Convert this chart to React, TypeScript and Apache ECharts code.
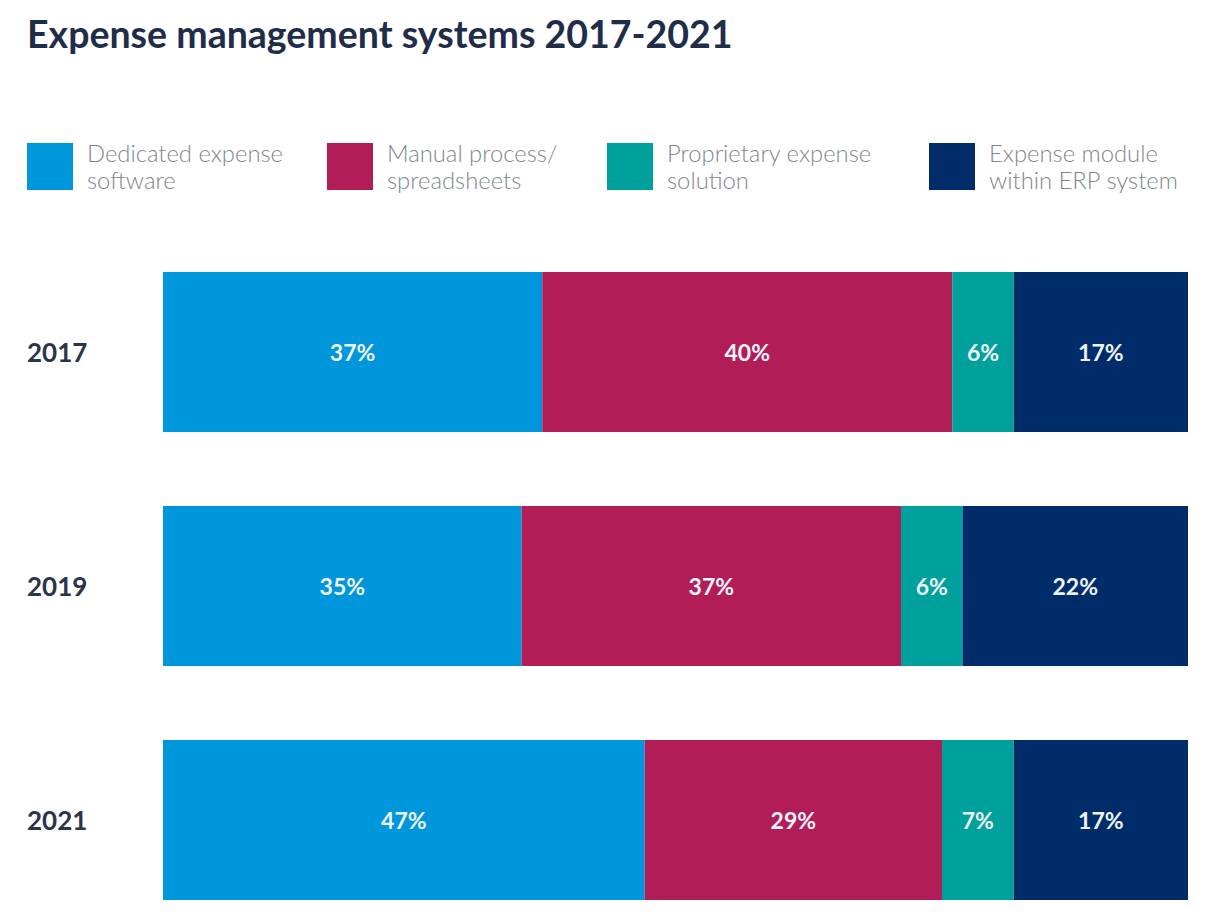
import React, { useEffect, useRef } from "react";
import * as echarts from "echarts";

const years = ["2017", "2019", "2021"];
const seriesNames = [
  "Dedicated expense\nsoftware",
  "Manual process/\nspreadsheets",
  "Proprietary expense\nsolution",
  "Expense module\nwithin ERP system",
];
const colors = ["#0096db", "#b31d57", "#00a19c", "#002d6a"];
const dedicated = [37, 35, 47];
const manual = [40, 37, 29];
const proprietary = [6, 6, 7];
const erpModule = [17, 22, 17];
const legendLefts = [22, 322, 602, 924];

export default function App() {
  const ref = useRef<HTMLDivElement>(null);
  useEffect(() => {
    if (!ref.current) return;
    const chart = echarts.init(ref.current, null, { renderer: "svg" });
    const values = [dedicated, manual, proprietary, erpModule];
    const font = "Lato, 'Noto Sans', sans-serif";
    chart.setOption({
      animation: false,
      backgroundColor: "#ffffff",
      title: {
        text: "Expense management systems 2017-2021",
        left: 22,
        top: 9,
        textStyle: {
          fontFamily: font,
          fontSize: 37.5,
          fontWeight: "bold",
          color: "#1f2d4b",
        },
      },
      legend: seriesNames.map((n, i) => ({
        data: [n],
        left: legendLefts[i],
        top: 132,
        itemWidth: 46,
        itemHeight: 47,
        itemGap: 14,
        icon: "rect",
        selectedMode: false,
        textStyle: {
          fontFamily: font,
          fontSize: 23.8,
          fontWeight: 300,
          color: "#7f8690",
          lineHeight: 26.5,
          padding: [6, 0, 0, 9],
        },
      })),
      grid: { left: 163, right: 30, top: 235, bottom: 3, containLabel: false },
      xAxis: { type: "value", min: 0, max: 100, show: false },
      yAxis: {
        type: "category",
        data: years,
        inverse: true,
        axisLine: { show: false },
        axisTick: { show: false },
        axisLabel: {
          align: "left",
          margin: 136,
          fontFamily: font,
          fontSize: 26,
          fontWeight: "bold",
          color: "#2b344a",
        },
      },
      series: seriesNames.map((n, i) => ({
        name: n,
        type: "bar",
        stack: "total",
        barWidth: 160,
        data: values[i],
        itemStyle: { color: colors[i] },
        label: {
          show: true,
          position: "inside",
          formatter: "{c}%",
          fontFamily: font,
          fontSize: 23,
          fontWeight: "bold",
          color: "#eef4fa",
        },
      })),
    });
    return () => chart.dispose();
  }, []);
  return (
    <div
      style={{
        position: "absolute",
        left: 0,
        top: 0,
        width: 1218,
        height: 920,
        overflow: "hidden",
      }}
    >
      <div
        ref={ref}
        style={{ position: "absolute", left: 0, top: 0, width: 1218, height: 940 }}
      />
    </div>
  );
}
